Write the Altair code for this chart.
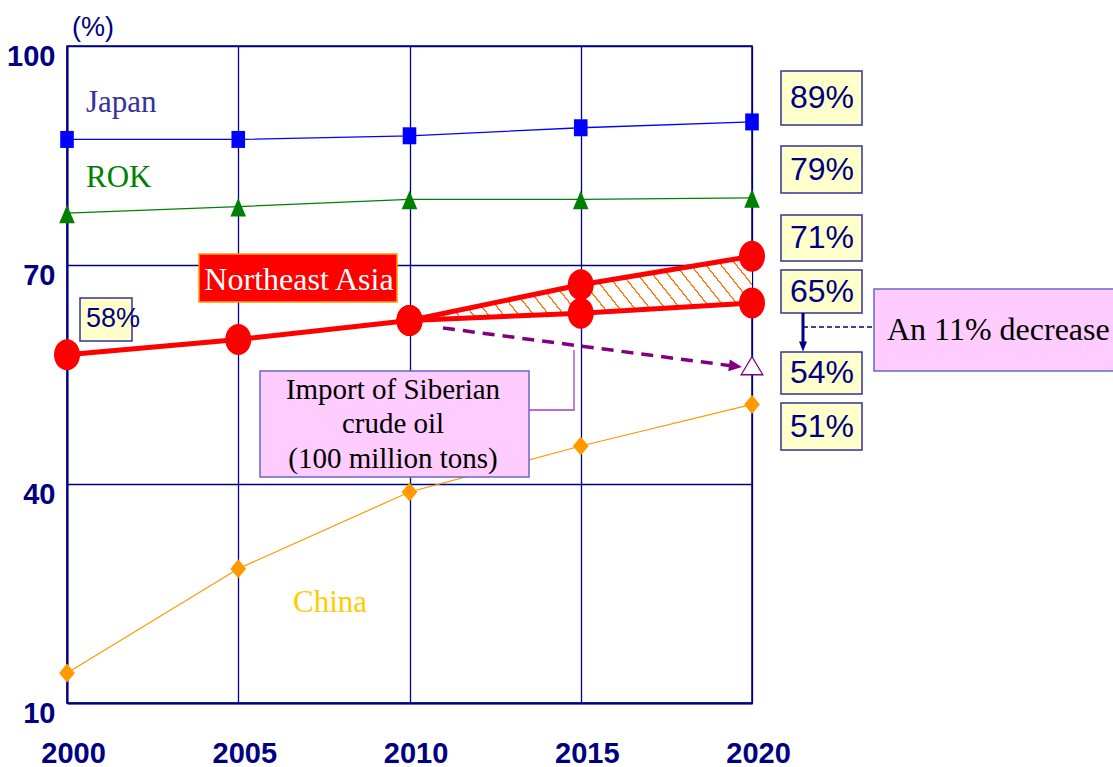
import math
import altair as alt
import pandas as pd

# ---------------- data ----------------
years = [2000, 2005, 2010, 2015, 2020]
japan = [87.2, 87.2, 87.7, 88.8, 89.6]
rok = [77.1, 78.0, 79.0, 79.0, 79.2]
china = [14.1, 28.4, 38.9, 45.2, 50.9]
nea_years = [2000, 2005, 2010]
nea = [57.7, 59.8, 62.4]
branch_years = [2010, 2015, 2020]
nea_high = [62.4, 67.3, 71.2]
nea_low = [62.4, 63.4, 64.8]
siberia_year = 2020
siberia_value = 56.2
right_labels = ["89%", "79%", "71%", "65%", "54%", "51%"]
start_label = "58%"
callout_lines = ["Import of Siberian", "crude oil", "(100 million tons)"]
series_names = ["Japan", "ROK", "China"]
y_ticks = [10, 40, 70, 100]

# ---------------- layout ----------------
L, T, PW, PH = 67, 46, 685, 657
NAVY = "#000080"
SANS = "Liberation Sans"
SERIF = "Liberation Serif"


def dx(px):
    return 2000 + (px - L) * 20 / PW


def dy(py):
    return 100 - (py - T) * 90 / PH


xs = alt.Scale(domain=[2000, 2020], nice=False, zero=False)
ys = alt.Scale(domain=[10, 100], nice=False, zero=False)
xaxis = alt.Axis(values=years, format="d", grid=True, gridColor=NAVY, gridWidth=1.3,
                 domainColor=NAVY, domainWidth=2, ticks=False, labelFont=SANS,
                 labelFontSize=29, labelFontWeight="bold", labelColor=NAVY,
                 labelPadding=36, labelOffset=6, labelFlush=False, labelOverlap=False,
                 title=None)
yaxis = alt.Axis(values=y_ticks, grid=True, gridColor=NAVY, gridWidth=1.3,
                 domainColor=NAVY, domainWidth=2, ticks=False, labelFont=SANS,
                 labelFontSize=29, labelFontWeight="bold", labelColor=NAVY,
                 labelPadding=12, labelOffset=10, labelBaseline="middle",
                 labelFlush=False, labelOverlap=False, title=None)


def X(f="x"):
    return alt.X(f"{f}:Q", scale=xs, axis=xaxis)


def Y(f="y"):
    return alt.Y(f"{f}:Q", scale=ys, axis=yaxis)


# custom marker shapes (slightly taller than wide, as in the reference)
SQ = "M -0.8 -1 L 0.8 -1 L 0.8 1 L -0.8 1 Z"
TRI = "M 0 -0.85 L 0.78 1 L -0.78 1 Z"
DIA = "M 0 -1 L 0.83 0 L 0 1 L -0.83 0 Z"
ELL = "M -0.84 0 A 0.84 1 0 1 0 0.84 0 A 0.84 1 0 1 0 -0.84 0 Z"
HTRI = "M 0 -1 L 1.2 1 L -1.2 1 Z"
ARR_R = "M 1 0 L -1 -0.9 L -1 0.9 Z"
ARR_D = "M 0 1 L -0.8 -1 L 0.8 -1 Z"


def series(xv, yv):
    return pd.DataFrame({"x": xv, "y": yv})


def line_pts(df, color, shape, size, width):
    ln = alt.Chart(df).mark_line(color=color, strokeWidth=width).encode(x=X(), y=Y())
    pt = alt.Chart(df).mark_point(filled=True, shape=shape, size=size, color=color,
                                  opacity=1, strokeWidth=0).encode(x=X(), y=Y())
    return ln, pt


china_ln, china_pt = line_pts(series(years, china), "#FF9900", DIA, 361, 1.2)
japan_ln, japan_pt = line_pts(series(years, japan), "#0000FF", SQ, 289, 1.3)
rok_ln, rok_pt = line_pts(series(years, rok), "#008000", TRI, 400, 1.2)

# ---------------- hatched band between the two NEA branches ----------------
band_df = pd.DataFrame({"x": branch_years, "y": nea_high, "y2": nea_low})
bw = (branch_years[-1] - branch_years[0]) / 20 * PW
bh = (max(nea_high) - min(nea_low)) / 90 * PH
d = (1 / bw, 1.25 / bh)
n = math.hypot(*d)
d = (d[0] / n, d[1] / n)
u = (d[1], -d[0])
proj = [0, u[0], u[1], u[0] + u[1]]
lo, hi = min(proj), max(proj)
period = 15 / bw * u[0]
N = max(1, round((hi - lo) / period))
w = 0.06 / N
HATCH = "#FF7F1A"
stops = [{"offset": 0, "color": "white"}]
for k in range(N):
    c = (k + 0.5) / N
    stops += [{"offset": c - w, "color": "white"}, {"offset": c - w, "color": HATCH},
              {"offset": c + w, "color": HATCH}, {"offset": c + w, "color": "white"}]
stops.append({"offset": 1, "color": "white"})
grad = {"gradient": "linear", "x1": lo * u[0], "y1": lo * u[1],
        "x2": hi * u[0], "y2": hi * u[1], "stops": stops}
band = alt.Chart(band_df).mark_area(fill=grad, opacity=1, strokeWidth=0).encode(
    x=X(), y=Y(), y2="y2:Q")

# ---------------- Northeast Asia ----------------
nea_df = pd.concat([
    pd.DataFrame({"x": nea_years, "y": nea, "seg": "base"}),
    pd.DataFrame({"x": branch_years, "y": nea_high, "seg": "high"}),
    pd.DataFrame({"x": branch_years, "y": nea_low, "seg": "low"}),
])
nea_ln = alt.Chart(nea_df).mark_line(color="#FF0000", strokeWidth=5).encode(
    x=X(), y=Y(), detail="seg:N")
nea_pt = alt.Chart(nea_df).mark_point(filled=True, shape=ELL, size=961, color="#FF0000",
                                      opacity=1, strokeWidth=0).encode(x=X(), y=Y())

# ---------------- Siberian-oil scenario arrow ----------------
sib_rule = alt.Chart(pd.DataFrame({"x": [dx(443)], "y": [dy(328)], "x2": [dx(733)],
                                   "y2": [dy(366)]})).mark_rule(
    color="#800080", strokeWidth=3.5, strokeDash=[12, 8], strokeCap="butt").encode(
    x=X(), y=Y(), x2="x2:Q", y2="y2:Q")
sib_head = alt.Chart(pd.DataFrame({"x": [dx(735.5)], "y": [dy(366.2)]})).mark_point(
    filled=True, shape=ARR_R, size=169, angle=7.4, color="#800080", opacity=1,
    strokeWidth=0).encode(x=X(), y=Y())
sib_pt = alt.Chart(series([siberia_year], [siberia_value])).mark_point(
    shape=HTRI, size=324, fill="white", stroke="#800080", strokeWidth=1.3,
    opacity=1, filled=False, fillOpacity=1).encode(x=X(), y=Y())

# ---------------- boxes ----------------
YEL, YEL_S = "#FFFFCC", "#333399"
PINK, PINK_S = "#FFCCFF", "#6666CC"
callout_box = [(260, 529, 371, 477, PINK, PINK_S)]
label_boxes = [
    (80, 132, 298, 341, YEL, YEL_S),
    (781, 862, 71, 125, YEL, YEL_S), (781, 862, 146, 193, YEL, YEL_S),
    (781, 862, 215, 261, YEL, YEL_S), (781, 862, 270, 313, YEL, YEL_S),
    (781, 862, 352, 394, YEL, YEL_S), (781, 862, 403, 450, YEL, YEL_S),
    (874, 1130, 289, 371, PINK, PINK_S),
    (199, 397, 254, 302, "#FF0000", "#FF9900"),
]


def boxes(rows):
    df = pd.DataFrame([{"x": dx(a), "x2": dx(b), "y": dy(c), "y2": dy(e), "f": f, "s": s}
                       for a, b, c, e, f, s in rows])
    return alt.Chart(df).mark_rect(strokeWidth=1.5).encode(
        x=X(), x2="x2:Q", y=Y(), y2="y2:Q",
        fill=alt.Fill("f:N", scale=None), stroke=alt.Stroke("s:N", scale=None))


def texts(rows, font, align, weight="normal"):
    df = pd.DataFrame([{"x": dx(a), "y": dy(b), "t": t, "c": c, "s": s}
                       for a, b, t, c, s in rows])
    return alt.Chart(df).mark_text(font=font, align=align, baseline="middle",
                                   fontWeight=weight).encode(
        x=X(), y=Y(), text="t:N", color=alt.Color("c:N", scale=None),
        size=alt.Size("s:Q", scale=None))


callout_txt = texts([(393, 390, callout_lines[0], "#000000", 29),
                     (393, 424, callout_lines[1], "#000000", 29),
                     (393, 459, callout_lines[2], "#000000", 29)], SERIF, "center")
connector = alt.Chart(pd.DataFrame({"x": [dx(529), dx(574), dx(574)],
                                    "y": [dy(410), dy(410), dy(350)],
                                    "o": [0, 1, 2]})).mark_line(
    color="#A040C0", strokeWidth=1.3).encode(x=X(), y=Y(), order="o:Q")

right_y = [98, 169.5, 238, 291.5, 373, 426.5]
sans_center = texts([(822, yy, t, NAVY, 32) for yy, t in zip(right_y, right_labels)],
                    SANS, "center")
sans_left = texts([(86, 319, start_label, NAVY, 27), (72, 28, "(%)", NAVY, 27)],
                  SANS, "left")
serif_left = texts([(86, 103, series_names[0], "#333399", 31),
                    (86, 178, series_names[1], "#008000", 31),
                    (293, 603, series_names[2], "#FFCC00", 31),
                    (887, 330, "An 11% decrease", "#000000", 32)], SERIF, "left")
nea_txt = texts([(299, 280, "Northeast Asia", "#FFFFFF", 32)], SERIF, "center")

# navy arrow 65% -> 54% and dashed leader
navy_rules = alt.Chart(pd.DataFrame({
    "x": [dx(803), dx(803)], "y": [dy(313), dy(327)],
    "x2": [dx(803), dx(874)], "y2": [dy(343), dy(327)],
    "w": [3, 1.5], "dash": ["solid", "dash"]})).mark_rule(color=NAVY).encode(
    x=X(), y=Y(), x2="x2:Q", y2="y2:Q",
    strokeWidth=alt.StrokeWidth("w:Q", scale=None),
    strokeDash=alt.StrokeDash("dash:N", scale=alt.Scale(domain=["solid", "dash"],
                                                         range=[[1, 0], [5, 3]]),
                              legend=None))
navy_head = alt.Chart(pd.DataFrame({"x": [dx(803)], "y": [dy(346.5)]})).mark_point(
    filled=True, shape=ARR_D, size=100, color=NAVY, opacity=1, strokeWidth=0).encode(
    x=X(), y=Y())

chart = alt.layer(
    china_ln, china_pt, band, japan_ln, japan_pt, rok_ln, rok_pt,
    boxes(callout_box), callout_txt, connector,
    nea_ln, nea_pt, sib_rule, sib_head, sib_pt,
    boxes(label_boxes), sans_center, sans_left, serif_left, nea_txt,
    navy_rules, navy_head,
).properties(
    width=PW, height=PH,
    autosize=alt.AutoSizeParams(type="none"),
    padding={"left": L, "top": T, "right": 1113 - L - PW, "bottom": 767 - T - PH},
    background="white",
).configure_view(stroke=NAVY, strokeWidth=1.5)

chart.save("out.html", embed_options={"renderer": "svg", "actions": False})
